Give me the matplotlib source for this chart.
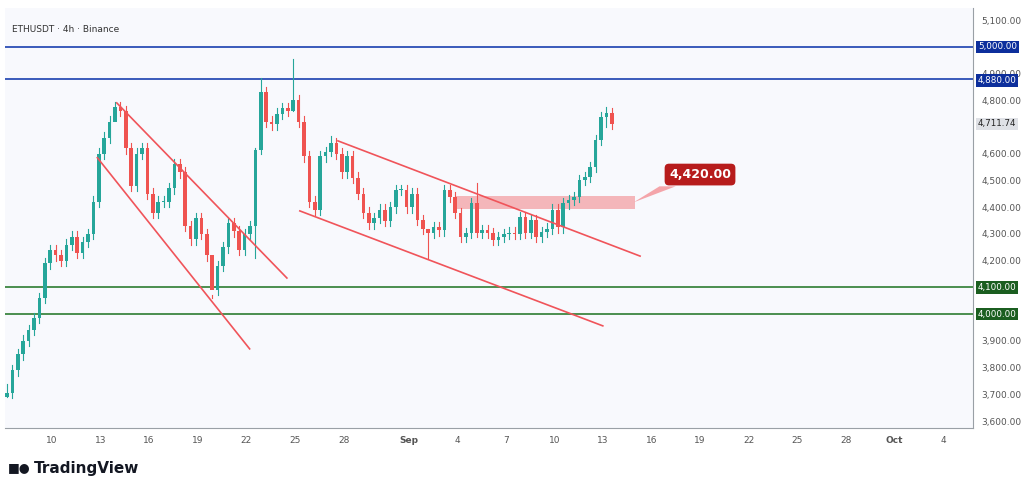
import matplotlib
matplotlib.use("Agg")
import matplotlib.pyplot as plt
from matplotlib.patches import Rectangle, Polygon

# 8h candles, x in days (Aug 1 = 1, Sep 1 = 32)
start_day = 7.22
step = 1.0 / 3
closes = [3705, 3790, 3850, 3900, 3940, 3985, 4060, 4190, 4240, 4220,
          4200, 4260, 4290, 4230, 4270, 4300, 4420, 4600, 4660, 4720,
          4775, 4760, 4620, 4480, 4600, 4620, 4450, 4380, 4420, 4420,
          4470, 4560, 4530, 4330, 4280, 4360, 4300, 4220, 4090, 4180,
          4250, 4340, 4310, 4240, 4300, 4330, 4614, 4830, 4720, 4710,
          4750, 4770, 4760, 4800, 4720, 4590, 4420, 4390, 4590, 4605,
          4640, 4600, 4530, 4590, 4510, 4450, 4380, 4340, 4360, 4390,
          4350, 4400, 4464, 4464, 4400, 4450, 4352, 4320, 4303, 4325,
          4314, 4464, 4438, 4378, 4288, 4303, 4415, 4303, 4314, 4303,
          4277, 4288, 4300, 4305, 4300, 4363, 4303, 4352, 4288, 4307,
          4320, 4390, 4325, 4415, 4427, 4438, 4502, 4513, 4550, 4651,
          4737, 4752, 4712]
first_open = 3690
# notable wicks: index -> (high, low)
wicks = {20: (4795, 4740), 38: (4070, 4060), 47: (4885, 4600), 53: (4955, 4760),
         60: (4665, 4590), 78: (4320, 4210), 87: (4490, 4290), 111: (4775, 4700),
         0: (3740, 3690), 46: (4620, 4210)}

hlines_blue = [5000, 4880]
hlines_green = [4100, 4000]
zone = (34.9, 46.0, 4395, 4440)
zone_label = "4,420.00"
last_price = "4,711.74"
channels = [((14.0, 4790), (24.5, 4135)), ((12.8, 4585), (22.2, 3870)),
            ((27.65, 4648), (46.3, 4217)), ((25.3, 4386), (44.0, 3956))]
tick_days = [10, 13, 16, 19, 22, 25, 28, 32, 35, 38, 41, 44, 47, 50, 53, 56, 59, 62, 65]
tick_labels = ["10", "13", "16", "19", "22", "25", "28", "Sep", "4", "7", "10", "13",
               "16", "19", "22", "25", "28", "Oct", "4"]
# price levels covered by tags are left out of the axis labels
y_ticks = [3600, 3700, 3800, 3900, 4200, 4300, 4400, 4500, 4600, 4800, 4900, 5100]

up, down = "#26a69a", "#ef5350"
bg = "#f8f9fd"

fig = plt.figure(figsize=(10.24, 4.9), dpi=100)
fig.patch.set_facecolor("white")
ax = fig.add_axes([5 / 1024, 62 / 490, 968 / 1024, 420 / 490])
ax.set_facecolor(bg)
ax.set_xlim(7.1, 66.85)
ax.set_ylim(3574, 5145)

opens = [first_open] + closes[:-1]
for i, (o, c) in enumerate(zip(opens, closes)):
    x = start_day + i * step
    col = up if c >= o else down
    hi, lo = wicks.get(i, (max(o, c) + 20, min(o, c) - 20))
    ax.plot([x, x], [lo, hi], color=col, lw=0.8, zorder=3)
    ax.add_patch(Rectangle((x - 0.11, min(o, c)), 0.22, max(abs(c - o), 3),
                           color=col, lw=0, zorder=4))

for y in hlines_blue:
    ax.axhline(y, color="#1a3fb0", lw=1.2, zorder=2)
for y in hlines_green:
    ax.axhline(y, color="#2e7d32", lw=1.2, zorder=2)
for (p0, p1) in channels:
    ax.plot([p0[0], p1[0]], [p0[1], p1[1]], color="#f0545a", lw=1.2, zorder=5)
ax.add_patch(Rectangle((zone[0], zone[2]), zone[1] - zone[0], zone[3] - zone[2],
                       color="#f4a5aa", alpha=0.8, lw=0, zorder=2))
# label with pointer
ax.add_patch(Polygon([(45.9, 4418), (47.5, 4478), (48.5, 4478)], closed=True,
                     color="#f4a5aa", lw=0, zorder=6))
ax.text(50.0, 4522, zone_label, ha="center", va="center", color="white",
        fontsize=9, fontweight="bold", zorder=7,
        bbox=dict(boxstyle="round,pad=0.35", fc="#b71c1c", ec="none"))

ax.set_xticks(tick_days)
ax.set_xticklabels(tick_labels)
ax.yaxis.tick_right()
ax.set_yticks(y_ticks)
ax.set_yticklabels([f"{v:,.2f}" for v in y_ticks])
ax.tick_params(axis="both", length=0, labelsize=6.5, colors="#555555", pad=6)
for lab in ax.get_xticklabels():
    if lab.get_text() in ("Sep", "Oct"):
        lab.set_fontweight("bold")
for s in ["top", "left"]:
    ax.spines[s].set_visible(False)
ax.spines["right"].set_color("#9aa0a6")
ax.spines["bottom"].set_color("#9aa0a6")

# right axis price tags
def tag(y, text, fc, tc="white", dy=0):
    ax.text(1.005, y + dy, text, transform=ax.get_yaxis_transform(), ha="left", va="center",
            fontsize=6.3, color=tc, zorder=8, clip_on=False,
            bbox=dict(boxstyle="square,pad=0.2", fc=fc, ec="none"))

tag(5000, "5,000.00", "#0d2f9c")
tag(4880, "4,880.00", "#0d2f9c", dy=-6)
for y in hlines_green:
    tag(y, f"{y:,.2f}", "#1b5e20")
tag(4711.74, last_price, "#dfe1e6", "#222222")

fig.text(12 / 1024, 1 - 30 / 490, "ETHUSDT · 4h · Binance", fontsize=6.5,
         color="#333333", va="center")
fig.text(8 / 1024, 1 - 468 / 490, "\u25a0\u25cf", fontsize=9, color="#131722", va="center")
fig.text(34 / 1024, 1 - 468 / 490, "TradingView", fontsize=11, fontweight="bold",
         color="#131722", va="center")

fig.savefig("out.png", dpi=100, facecolor="white")
